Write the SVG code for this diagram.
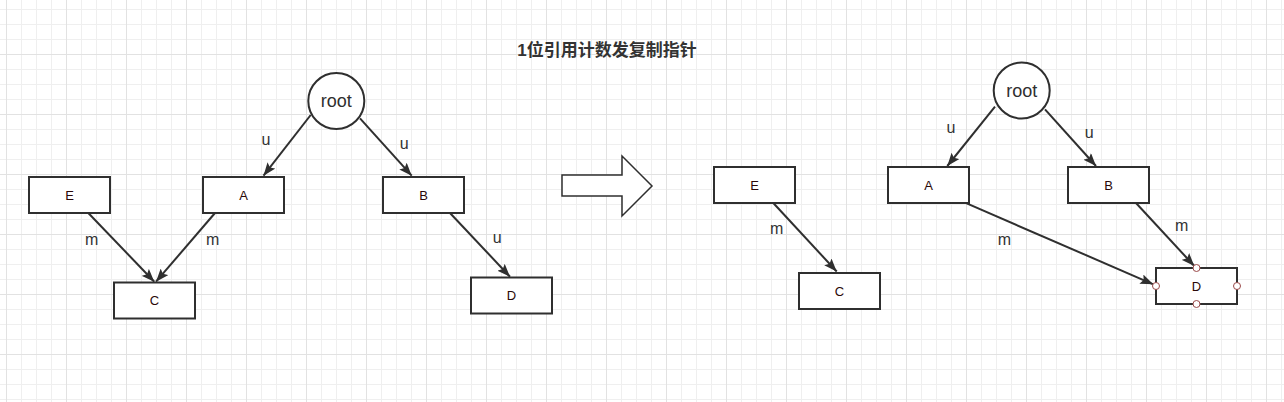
<svg xmlns="http://www.w3.org/2000/svg" width="1284" height="402" viewBox="0 0 1284 402">
  <style>
    .box { fill: #ffffff; stroke: #2f2f2f; stroke-width: 2; }
    .circ { fill: #ffffff; stroke: #2f2f2f; stroke-width: 2; }
    .lbl { font-family: "Liberation Sans", Arial, sans-serif; font-size: 13px; fill: #2a0808; text-anchor: middle; }
    .root { font-family: "Liberation Sans", Arial, sans-serif; font-size: 18px; fill: #2f2f2f; text-anchor: middle; }
    .elbl { font-family: "Liberation Sans", Arial, sans-serif; font-size: 16px; fill: #333333; text-anchor: middle; }
    .edge { fill: none; stroke: #2f2f2f; stroke-width: 2; marker-end: url(#arr); }
    .title { font-family: "Liberation Sans", "Noto Sans CJK SC", sans-serif; font-size: 17px; font-weight: bold; fill: #333333; text-anchor: middle; }
    .handle { fill: #ffffff; stroke: #9a4a4a; stroke-width: 1; }
  </style>
  <defs>
    <pattern id="grid" patternUnits="userSpaceOnUse" x="6" y="-6" width="60" height="60">
      <path d="M15.5,0 V60 M30.5,0 V60 M45.5,0 V60 M0,15.5 H60 M0,30.5 H60 M0,45.5 H60" stroke="#efefef" stroke-width="1" fill="none"/>
      <path d="M0.5,0 V60 M0,0.5 H60" stroke="#e2e2e2" stroke-width="1" fill="none"/>
    </pattern>
    <marker id="arr" markerUnits="userSpaceOnUse" markerWidth="13" markerHeight="10" viewBox="0 0 13 10" refX="13" refY="5" orient="auto">
      <path d="M0,0 L13,5 L0,10 L2.5,5 z" fill="#2f2f2f"/>
    </marker>
  </defs>

  <rect x="0" y="0" width="1284" height="402" fill="#ffffff"/>
  <rect x="0" y="0" width="1284" height="402" fill="url(#grid)"/>

  <text class="title" x="607" y="56">1位引用计数发复制指针</text>

  <g id="connectors">
    <!-- left diagram -->
    <path class="edge" d="M310.7,115 L263.5,175.7"/>
    <path class="edge" d="M360,118.3 L411.7,175.7"/>
    <path class="edge" d="M88.3,213 L154.3,281.7"/>
    <path class="edge" d="M215,213 L156,281.7"/>
    <path class="edge" d="M450,213 L510,276.7"/>
    <!-- right diagram -->
    <path class="edge" d="M773.3,203 L836.7,271.5"/>
    <path class="edge" d="M995,106.7 L947.3,166"/>
    <path class="edge" d="M1045,109.3 L1096,166"/>
    <path class="edge" d="M965,202.7 L1153.3,284.3"/>
    <path class="edge" d="M1136,203 L1194.3,266"/>

    <text class="elbl" x="266" y="144.5">u</text>
    <text class="elbl" x="404.3" y="148.5">u</text>
    <text class="elbl" x="91.7" y="245">m</text>
    <text class="elbl" x="212.7" y="245">m</text>
    <text class="elbl" x="497.3" y="242.5">u</text>
    <text class="elbl" x="776.7" y="234">m</text>
    <text class="elbl" x="951" y="133">u</text>
    <text class="elbl" x="1089.3" y="138">u</text>
    <text class="elbl" x="1004.3" y="245">m</text>
    <text class="elbl" x="1181.7" y="231">m</text>
  </g>

  <g id="big-arrow">
    <polygon points="562,175 622,175 622,156 652,186 622,216 622,196 562,196" fill="#ffffff" stroke="#2f2f2f" stroke-width="1.5"/>
  </g>

  <!-- left diagram nodes -->
  <g id="L-root">
    <circle class="circ" cx="336.3" cy="101" r="28"/>
    <text class="root" x="336.3" y="107">root</text>
  </g>
  <g id="L-E">
    <rect class="box" x="29" y="177" width="81" height="36"/>
    <text class="lbl" x="69.5" y="199.5">E</text>
  </g>
  <g id="L-A">
    <rect class="box" x="203" y="177" width="81" height="36"/>
    <text class="lbl" x="243.5" y="199.5">A</text>
  </g>
  <g id="L-B">
    <rect class="box" x="383" y="177" width="81" height="36"/>
    <text class="lbl" x="423.5" y="199.5">B</text>
  </g>
  <g id="L-C">
    <rect class="box" x="114" y="282.5" width="81" height="36"/>
    <text class="lbl" x="154.5" y="305">C</text>
  </g>
  <g id="L-D">
    <rect class="box" x="471" y="277.5" width="81" height="36"/>
    <text class="lbl" x="511.5" y="300">D</text>
  </g>

  <!-- right diagram nodes -->
  <g id="R-root">
    <circle class="circ" cx="1021.7" cy="90.5" r="28"/>
    <text class="root" x="1021.7" y="96.5">root</text>
  </g>
  <g id="R-E">
    <rect class="box" x="714" y="167" width="81" height="36"/>
    <text class="lbl" x="754.5" y="189.5">E</text>
  </g>
  <g id="R-C">
    <rect class="box" x="799" y="273" width="81" height="36"/>
    <text class="lbl" x="839.5" y="295.5">C</text>
  </g>
  <g id="R-A">
    <rect class="box" x="888" y="167" width="81" height="36"/>
    <text class="lbl" x="928.5" y="189.5">A</text>
  </g>
  <g id="R-B">
    <rect class="box" x="1068" y="167" width="81" height="36"/>
    <text class="lbl" x="1108.5" y="189.5">B</text>
  </g>
  <g id="R-D">
    <rect class="box" x="1156" y="268" width="81" height="36"/>
    <text class="lbl" x="1196.5" y="290.5">D</text>
    <circle class="handle" cx="1156" cy="286" r="3.5"/>
    <circle class="handle" cx="1237" cy="286" r="3.5"/>
    <circle class="handle" cx="1196.5" cy="268" r="3.5"/>
    <circle class="handle" cx="1196.5" cy="304" r="3.5"/>
  </g>
</svg>
